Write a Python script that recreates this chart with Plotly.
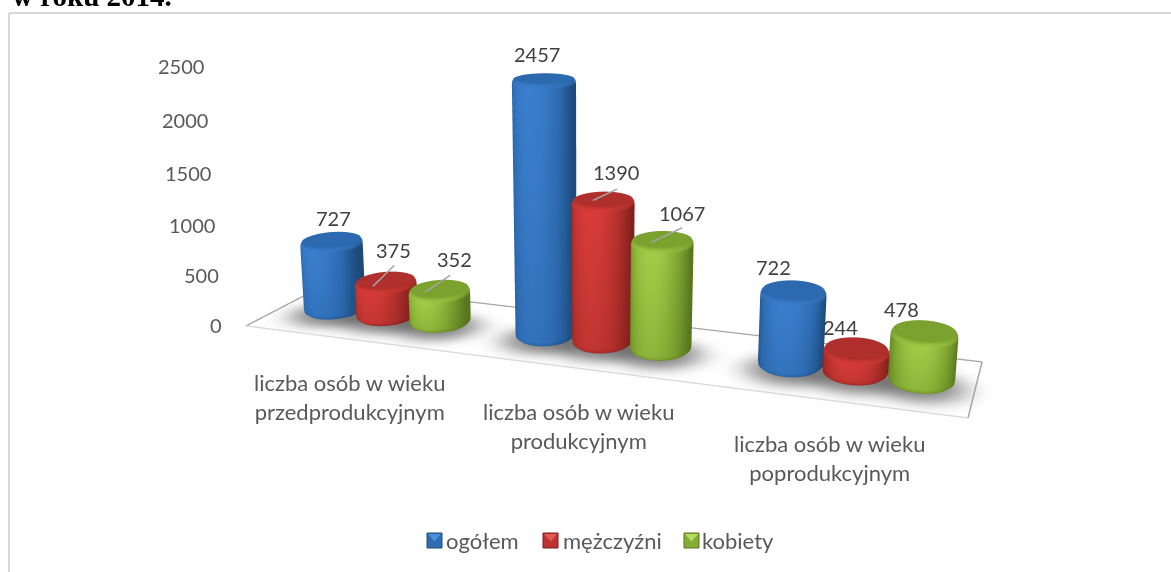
import numpy as np
import plotly.graph_objects as go

# ---------- data ----------
CATEGORIES = ["liczba osób w wieku<br>przedprodukcyjnym",
              "liczba osób w wieku<br>produkcyjnym",
              "liczba osób w wieku<br>poprodukcyjnym"]
SERIES = ["ogółem", "mężczyźni", "kobiety"]
OGOLEM = [727, 2457, 722]
MEZCZYZNI = [375, 1390, 244]
KOBIETY = [352, 1067, 478]
AXIS_TICKS = [0, 500, 1000, 1500, 2000, 2500]
AXIS_MAX = 2500
TITLE = "w roku 2014."

# ---------- styles ----------
SCALES = [
    [[0, "#1B4674"], [0.5, "#2C69AE"], [1, "#3A7FCE"]],
    [[0, "#7C1E1C"], [0.5, "#AE2F2B"], [1, "#DA3C39"]],
    [[0, "#54711D"], [0.5, "#7BA12F"], [1, "#A1CE48"]],
]
LEG_MID = ["#2F6CB0", "#BE3330", "#84AC36"]
LEG_TOP = ["#4A90E0", "#E25A56", "#B4DC5E"]
LEG_EDGE = ["#1F4E80", "#7C1E1C", "#5A7622"]
LEG_SQUARE_X = [427, 543, 684]
LEG_TEXT_X = [444, 561, 700]
FONT = "Lato"
W, H = 1171, 572
# label offsets (px) from the top of each cylinder
LABEL_SHIFT = [[(2, -24), (8, -32), (15, -32)],
               [(-7, -29), (13, -31), (20, -29)],
               [(-20, -26), (-16, -24), (-23, -24)]]
# leader lines: (series, category): start dX,dY ; end dX,dz
LEADERS = {(1, 0): (-0.001, -0.17, 0.003, 0.045),
           (2, 0): (-0.010, -0.12, 0.007, 0.039),
           (1, 1): (-0.009, -0.08, 0.012, 0.027),
           (2, 1): (-0.008, -0.11, 0.021, 0.034)}
CAT_SHIFT = [0, -0.006, 0.011]
STEP_SCALE = [1, 1, 1.04]
RX_SCALE = [1, 1, 1.05]
BAR_BASE = 0.009
BAR_SCALE = 1.01

# ---------- view: chart space (X along categories, Y depth, Z value) -> scene ----------
KAPPA = 0.6
F = (H / 2) / np.tan(np.pi / 8)


def to_scene(X, Y, Z):
    X, Y, Z = np.asarray(X, float), np.asarray(Y, float), np.asarray(Z, float)
    w = 1 - 0.1281 * X + 0.10166 * Y - 0.05 * Z
    ax = 246 + 598 * X + 112.04 * Y - 29.4 * Z
    ay = 326 + 38.45 * X - 12.03 * Y - 262.35 * Z
    return (KAPPA * (ax - W / 2 * w) / F,
            KAPPA * (w - 1),
            KAPPA * (H / 2 * w - ay) / F)


RX, RY = 0.041, 0.23
BAR_STEP = 1 / 12
YC = 0.46
fig = go.Figure()
LIGHT = dict(ambient=1, diffuse=0, specular=0, roughness=1, fresnel=0)
NOCONT = dict(x=dict(highlight=False), y=dict(highlight=False), z=dict(highlight=False))
VALUES = [OGOLEM, MEZCZYZNI, KOBIETY]


def centre(s, c):
    return (c + 0.5) / 3 + CAT_SHIFT[c] + (s - 1) * BAR_STEP * STEP_SCALE[c]


# floor with soft shadows
fx = np.linspace(-0.06, 1.06, 300)
fy = np.linspace(-0.25, 1.2, 140)
FX, FY = np.meshgrid(fx, fy)
shade = np.ones_like(FX)
for s in range(3):
    for c in range(3):
        d = ((FX - centre(s, c)) / (RX * 1.45)) ** 2 + ((FY - YC + 0.03) / (RY * 1.3)) ** 2
        shade *= 1 - 0.45 * np.exp(-d ** 1.6)
sx, sy, sz = to_scene(FX, FY, np.full_like(FX, -0.002))
fig.add_trace(go.Surface(x=sx, y=sy, z=sz, surfacecolor=shade, cmin=0, cmax=1,
                         colorscale=[[0, "#000000"], [1, "#FFFFFF"]], showscale=False,
                         lighting=LIGHT, hoverinfo="skip", contours=NOCONT))

# floor outline
for xs, ys, col in [([0, 0, 1, 1], [0, 1, 1, 0], "#A6A6A6"), ([0, 1], [0, 0], "#D9D9D9")]:
    lx, ly, lz = to_scene(xs, ys, [0] * len(xs))
    fig.add_trace(go.Scatter3d(x=lx, y=ly, z=lz, mode="lines", line=dict(color=col, width=3),
                               hoverinfo="skip", showlegend=False))

# cylinders
theta = np.linspace(0, 2 * np.pi, 97)
for s, vals in enumerate(VALUES):
    for c, v in enumerate(vals):
        h = v / AXIS_MAX
        rx = RX * RX_SCALE[c]
        rows = [(0, 0, "b"), (0.90, 0, "b"), (0.985, 0.008, "b2")]
        for t in np.linspace(0.02, h - 0.022, 10):
            rows.append((1, t, "side"))
        rows += [(0.99, h - 0.012, "bev"), (0.95, h - 0.003, "bev2"), (0.88, h, "cap"), (0, h, "cap")]
        cosf = np.clip(-np.sin(theta), 0, 1)
        X, Y, Z, C = [], [], [], []
        for r, z, kind in rows:
            X.append(centre(s, c) + r * rx * np.cos(theta))
            Y.append(YC + r * RY * np.sin(theta))
            Z.append(np.full_like(theta, BAR_BASE + z * BAR_SCALE))
            side = 0.06 + 0.94 * cosf ** 1.4
            if kind == "b":
                C.append(side * 0.25)
            elif kind == "b2":
                C.append(side * 0.55)
            elif kind == "side":
                C.append(side * (0.72 + 0.28 * z / h))
            elif kind == "bev":
                C.append(0.42 + 0.5 * cosf)
            elif kind == "bev2":
                C.append(0.5 + 0.2 * cosf)
            else:
                C.append(np.full_like(theta, 0.5))
        sx, sy, sz = to_scene(np.array(X), np.array(Y), np.array(Z))
        fig.add_trace(go.Surface(x=sx, y=sy, z=sz, surfacecolor=np.array(C), cmin=0, cmax=1,
                                 colorscale=SCALES[s], showscale=False, lighting=LIGHT,
                                 hoverinfo="skip", contours=NOCONT))

# leader lines
for (s, c), (ax_, ay_, bx_, bz_) in LEADERS.items():
    cx = centre(s, c)
    h = BAR_BASE + VALUES[s][c] / AXIS_MAX * BAR_SCALE
    lx, ly, lz = to_scene([cx + ax_, cx + bx_], [YC + ay_, YC + 0.1], [h + 0.001, h + bz_])
    fig.add_trace(go.Scatter3d(x=lx, y=ly, z=lz, mode="lines", line=dict(color="#A6A6A6", width=3),
                               hoverinfo="skip", showlegend=False))

# scene annotations
ann = []
for t in AXIS_TICKS:
    px, py, pz = to_scene(0, 0, t / AXIS_MAX)
    ann.append(dict(x=float(px), y=float(py), z=float(pz), text=str(t), showarrow=False,
                    xanchor="right", yanchor="middle", xshift=-22, yshift=1,
                    font=dict(family=FONT, size=20, color="#595959")))
for c, name in enumerate(CATEGORIES):
    px, py, pz = to_scene((c + 0.5) / 3, 0, 0)
    ann.append(dict(x=float(px), y=float(py), z=float(pz), text=name, showarrow=False,
                    xanchor="center", yanchor="top", xshift=-4, yshift=-27,
                    font=dict(family=FONT, size=22, color="#595959")))
for s, vals in enumerate(VALUES):
    for c, v in enumerate(vals):
        px, py, pz = to_scene(centre(s, c), YC, v / AXIS_MAX)
        dx, dy = LABEL_SHIFT[c][s]
        ann.append(dict(x=float(px), y=float(py), z=float(pz), text=str(v), showarrow=False,
                        xanchor="center", yanchor="middle", xshift=dx, yshift=-dy,
                        font=dict(family=FONT, size=20, color="#404040")))

# legend, title and frame on the page
def px_(x):
    return x / W


def py_(y):
    return 1 - y / H


shapes = [dict(type="line", xref="paper", yref="paper", x0=px_(9), x1=px_(9), y0=0, y1=py_(13),
               line=dict(color="#D9D9D9", width=2)),
          dict(type="line", xref="paper", yref="paper", x0=px_(9), x1=1, y0=py_(13), y1=py_(13),
               line=dict(color="#D9D9D9", width=2))]
page_ann = [dict(text="<b>" + TITLE + "</b>", xref="paper", yref="paper", x=px_(10), y=py_(14),
                 xanchor="left", yanchor="bottom", showarrow=False,
                 font=dict(family="Times New Roman, Liberation Serif, serif", size=29, color="black"))]
for s, name in enumerate(SERIES):
    x0, y0, size = LEG_SQUARE_X[s], 533, 15
    shapes.append(dict(type="rect", xref="paper", yref="paper", x0=px_(x0), x1=px_(x0 + size),
                       y0=py_(y0), y1=py_(y0 + size), fillcolor=LEG_MID[s],
                       line=dict(color=LEG_EDGE[s], width=1)))
    shapes.append(dict(type="path", xref="paper", yref="paper",
                       path=f"M {px_(x0 + 1)} {py_(y0 + 1)} L {px_(x0 + size - 1)} {py_(y0 + 1)} "
                            f"L {px_(x0 + size / 2)} {py_(y0 + size / 2 + 1)} Z",
                       fillcolor=LEG_TOP[s], line=dict(width=0)))
    page_ann.append(dict(text=name, xref="paper", yref="paper", x=px_(LEG_TEXT_X[s]), y=py_(540),
                         xanchor="left", yanchor="middle", showarrow=False,
                         font=dict(family=FONT, size=22, color="#595959")))

R = [-0.5, 0.5]
hidden = dict(visible=False, range=R, autorange=False)
fig.update_layout(
    width=W, height=H, autosize=False, margin=dict(l=0, r=0, t=0, b=0),
    paper_bgcolor="white", font=dict(family=FONT), showlegend=False,
    scene=dict(xaxis=hidden, yaxis=hidden, zaxis=hidden, bgcolor="white",
               domain=dict(x=[0, 1], y=[0, 1]),
               aspectmode="manual", aspectratio=dict(x=1, y=1, z=1),
               camera=dict(eye=dict(x=0, y=-KAPPA, z=0), center=dict(x=0, y=0, z=0),
                           up=dict(x=0, y=0, z=1), projection=dict(type="perspective")),
               annotations=ann),
    shapes=shapes,
    annotations=page_ann,
)
fig.write_html("out.html", config=dict(displayModeBar=False),
               post_script="document.body.style.margin='0';document.documentElement.style.overflow='hidden';")
